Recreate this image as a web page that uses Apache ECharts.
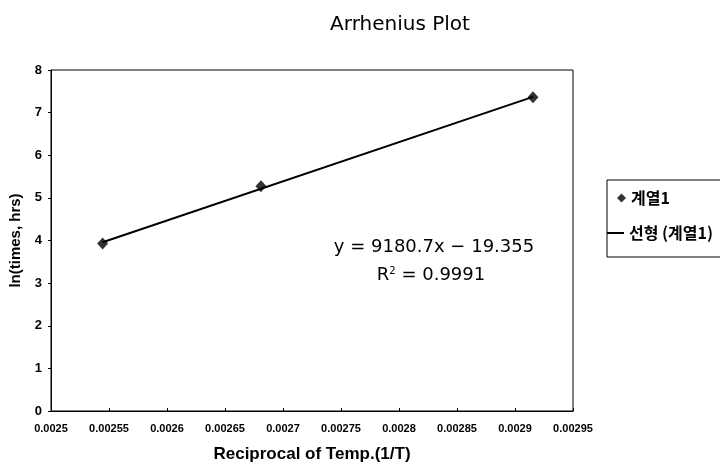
<!DOCTYPE html>
<html>
<head>
<meta charset="utf-8">
<script src="https://cdn.jsdelivr.net/npm/echarts@6/dist/echarts.min.js"></script>
<style>
  html, body { margin: 0; padding: 0; background: #fff; }
  #main { width: 720px; height: 468px; }
</style>
</head>
<body>
<div id="main"></div>
<script>
// 측정값 (1/T, ln t)
var recipTemp = [0.0025445, 0.002681, 0.0029155];
var lnTime = [3.93, 5.27, 7.36];
// 추세선 양 끝점
var trendX = [0.0025445, 0.0029155];
var trendY = [3.96, 7.37];
var seriesName = '계열1';
var trendName = '선형 (계열1)';
var eqText = 'y = 9180.7x − 19.355';
var r2Text = '0.9991';

var chart = echarts.init(document.getElementById('main'));
var font = '"Liberation Sans", Arial, "Noto Sans CJK KR", sans-serif';
var narrow = '"Liberation Sans Narrow", "Liberation Sans", Arial, sans-serif';
var wide = '"DejaVu Sans", "Liberation Sans", sans-serif';
var cjk = '"Noto Sans CJK KR", "Liberation Sans", sans-serif';

var pts = recipTemp.map(function (x, i) { return [x, lnTime[i]]; });
var trend = trendX.map(function (x, i) { return [x, trendY[i]]; });

var option = {
    backgroundColor: '#fff',
    animation: false,
    textStyle: { fontFamily: font, color: '#000' },
    title: {
        text: 'Arrhenius Plot',
        left: 395,
        top: 10,
        textAlign: 'center',
        textStyle: { fontSize: 20, fontWeight: 'normal', color: '#000', fontFamily: wide }
    },
    grid: {
        left: 51, right: 147, top: 70, bottom: 55,
        show: true, borderColor: '#000', borderWidth: 1
    },
    legend: [
        {
            // 범례 테두리 + 계열1
            orient: 'vertical',
            left: 607, top: 180,
            itemWidth: 9, itemHeight: 9,
            padding: [10, 120, 51, 10],
            borderColor: '#000', borderWidth: 1,
            textStyle: { fontSize: 16, fontWeight: 'bold', color: '#000', fontFamily: cjk },
            data: [{ name: seriesName, icon: 'diamond' }]
        },
        {
            // 선형 추세선
            orient: 'vertical',
            left: 606, top: 225,
            itemWidth: 17, itemHeight: 12,
            padding: 0,
            textStyle: { fontSize: 16, fontWeight: 'bold', color: '#000', fontFamily: cjk },
            data: [{ name: trendName, itemStyle: { opacity: 0 } }]
        }
    ],
    xAxis: {
        type: 'value',
        min: 0.0025, max: 0.00295, interval: 0.00005,
        name: 'Reciprocal of Temp.(1/T)',
        nameLocation: 'middle',
        nameGap: 35,
        nameTextStyle: { fontSize: 17, fontWeight: 'bold', color: '#000', fontFamily: font },
        axisLine: { lineStyle: { color: '#000' } },
        axisTick: { inside: true, length: 3, lineStyle: { color: '#000' } },
        axisLabel: {
            fontSize: 11, fontWeight: 'bold', color: '#000', margin: 12, fontFamily: narrow,
            formatter: function (v) { return String(+v.toFixed(5)); }
        },
        splitLine: { show: false }
    },
    yAxis: {
        type: 'value',
        min: 0, max: 8, interval: 1,
        name: 'ln(times, hrs)',
        nameLocation: 'middle',
        nameGap: 28,
        nameTextStyle: { fontSize: 15, fontWeight: 'bold', color: '#000', fontFamily: font },
        axisLine: { show: true, lineStyle: { color: '#000' } },
        axisTick: { show: true, length: 3, lineStyle: { color: '#000' } },
        axisLabel: { fontSize: 13, fontWeight: 'bold', color: '#000', margin: 9, fontFamily: narrow },
        splitLine: { show: false }
    },
    series: [
        {
            name: trendName,
            type: 'line',
            data: trend,
            symbol: 'none',
            lineStyle: { color: '#000', width: 2 },
            itemStyle: { color: '#000' },
            z: 2
        },
        {
            name: seriesName,
            type: 'scatter',
            data: pts,
            symbol: 'diamond',
            symbolSize: [11, 12],
            itemStyle: { color: '#000' },
            z: 3
        }
    ],
    graphic: [
        {
            type: 'text',
            x: 434, y: 247,
            style: {
                text: eqText, font: '18px ' + wide, fill: '#000',
                align: 'center', verticalAlign: 'middle'
            }
        },
        {
            type: 'text',
            x: 431, y: 275,
            style: {
                text: '{n|R}{s|2}{n| = ' + r2Text + '}',
                align: 'center', verticalAlign: 'middle',
                rich: {
                    n: { fontSize: 18, fontFamily: wide, color: '#000' },
                    s: { fontSize: 10, fontFamily: wide, color: '#000', verticalAlign: 'top', padding: [0, 0, 8, 0] }
                }
            }
        }
    ]
};
chart.setOption(option);
</script>
</body>
</html>
